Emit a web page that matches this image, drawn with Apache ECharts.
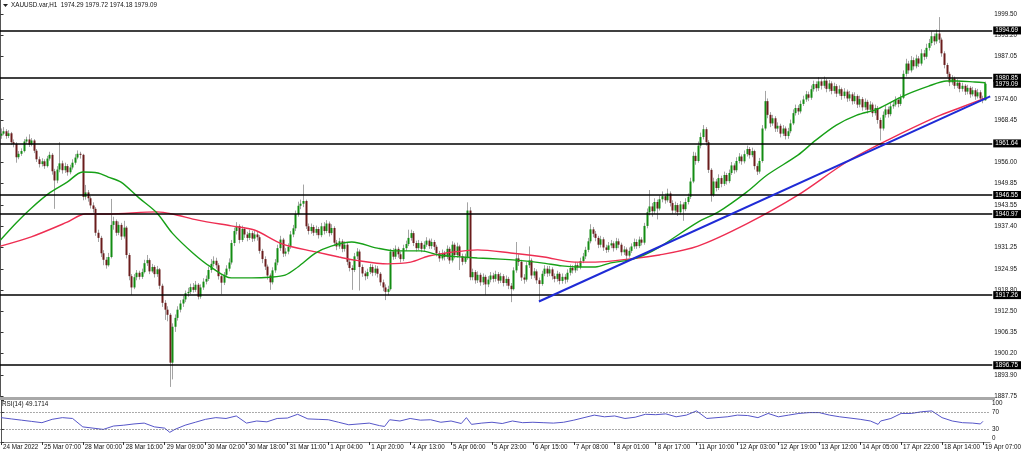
<!DOCTYPE html>
<html><head><meta charset="utf-8">
<script src="https://cdn.jsdelivr.net/npm/echarts@6/dist/echarts.min.js"></script>
<style>html,body{margin:0;padding:0;background:#fff}#c{width:1024px;height:453px}</style>
</head><body><div id="c"></div>
<script>
const headerText = 'XAUUSD.var,H1  1974.29 1979.72 1974.18 1979.09';
const rsiText = 'RSI(14) 49.1714';
const tickIdx = [0,16,32,48,64,80,96,112,128,144,160,176,192,208,224,240,256,272,288,304,320,336,352,368,384];
const tickLabels = ['24 Mar 2022','25 Mar 07:00','28 Mar 00:00','28 Mar 16:00','29 Mar 09:00','30 Mar 02:00','30 Mar 18:00','31 Mar 11:00','1 Apr 04:00','1 Apr 20:00','4 Apr 13:00','5 Apr 06:00','5 Apr 23:00','6 Apr 15:00','7 Apr 08:00','8 Apr 01:00','8 Apr 17:00','11 Apr 10:00','12 Apr 03:00','12 Apr 19:00','13 Apr 12:00','14 Apr 05:00','17 Apr 22:00','18 Apr 14:00','19 Apr 07:00'];
const priceTicks = [1999.50,1993.20,1987.05,1974.60,1968.45,1956.00,1949.85,1943.55,1937.40,1931.25,1924.95,1918.80,1912.50,1906.35,1900.20,1893.90,1887.75];
const levelLines = [1994.69,1980.85,1961.64,1946.55,1940.97,1917.26,1896.75];
const boxLabels = [1994.69,1980.85,1979.09,1961.64,1946.55,1940.97,1917.26,1896.75];
const rsiTicks = [100,70,30,0];
const rsiLevels = [70,30];

const opens = [
1963.9,1964.5,1965.2,1963.8,1964.6,1962.0,1961.5,1957.6,1958.6,1959.4,
1962.2,1962.8,1961.3,1962.5,1959.5,1957.0,1955.6,1956.4,1955.0,1957.2,
1958.3,1953.5,1950.8,1954.0,1955.8,1953.8,1955.0,1953.2,1954.6,1956.0,
1957.5,1958.6,1958.3,1946.0,1947.3,1945.6,1943.5,1942.5,1935.5,1934.0,
1929.5,1927.6,1926.0,1928.4,1937.8,1938.9,1935.5,1937.8,1934.4,1937.0,
1929.0,1922.8,1919.5,1922.5,1923.8,1922.6,1924.0,1926.6,1927.5,1924.2,
1925.5,1923.4,1924.8,1920.0,1915.0,1913.0,1911.5,1897.5,1908.0,1910.6,
1913.0,1914.8,1916.0,1917.8,1918.2,1919.6,1918.8,1920.3,1916.8,1919.5,
1921.2,1922.0,1924.6,1926.4,1927.3,1926.0,1922.8,1920.9,1923.2,1925.0,
1926.8,1932.5,1936.0,1937.5,1933.4,1936.6,1935.0,1934.0,1935.4,1933.8,
1935.0,1934.2,1930.2,1927.8,1925.6,1923.0,1921.0,1924.5,1926.8,1931.0,
1933.5,1929.4,1930.0,1931.4,1935.0,1936.8,1941.0,1943.4,1944.0,1944.8,
1937.4,1936.0,1937.2,1935.5,1936.6,1934.8,1937.4,1936.0,1938.2,1935.4,
1936.9,1932.6,1931.5,1933.0,1930.8,1932.0,1927.0,1925.2,1924.6,1928.6,
1930.0,1925.5,1923.6,1922.8,1924.0,1925.5,1923.8,1925.0,1923.5,1921.0,
1919.5,1918.2,1919.0,1930.0,1928.5,1930.8,1929.2,1927.8,1931.0,1932.2,
1934.0,1935.4,1932.5,1931.0,1932.5,1930.8,1932.0,1933.2,1931.6,1932.8,
1931.4,1929.5,1928.0,1929.6,1928.4,1930.8,1927.4,1932.0,1929.0,1931.5,
1928.6,1927.0,1928.2,1942.0,1922.5,1924.0,1921.6,1923.2,1921.0,1922.6,
1920.4,1921.8,1923.0,1922.0,1923.4,1921.5,1922.8,1920.8,1922.0,1920.0,
1919.0,1924.5,1928.0,1927.0,1922.4,1921.8,1926.0,1927.4,1923.0,1924.2,
1921.6,1920.5,1923.5,1925.0,1923.6,1924.8,1922.8,1922.0,1923.5,1921.4,
1922.6,1921.8,1923.8,1925.2,1924.5,1926.0,1925.4,1927.2,1928.6,1930.5,
1933.0,1936.5,1935.2,1934.0,1932.0,1933.6,1931.2,1930.5,1931.8,1932.4,
1931.0,1933.0,1932.0,1929.8,1930.6,1928.8,1930.2,1931.5,1932.8,1931.6,
1933.5,1932.6,1937.5,1941.5,1943.2,1941.8,1944.5,1942.6,1945.3,1946.2,
1945.0,1947.0,1944.2,1942.0,1943.6,1941.5,1943.8,1942.4,1944.5,1946.0,
1950.5,1958.0,1956.5,1961.0,1963.5,1965.8,1962.0,1953.9,1946.5,1950.5,
1948.6,1951.5,1949.8,1952.4,1950.6,1953.0,1955.2,1953.8,1956.5,1957.8,
1956.4,1958.5,1960.0,1958.2,1959.4,1955.0,1953.4,1956.5,1966.0,1974.0,
1970.0,1967.5,1969.0,1966.0,1966.8,1964.5,1966.0,1963.8,1965.2,1967.5,
1970.5,1972.0,1971.0,1973.2,1974.5,1976.0,1975.0,1977.5,1979.0,1977.8,
1979.8,1978.5,1980.0,1977.6,1979.2,1977.0,1978.4,1976.2,1977.5,1975.5,
1976.8,1974.8,1976.0,1974.0,1975.5,1973.0,1974.6,1972.2,1973.8,1971.5,
1973.0,1970.5,1972.0,1968.5,1966.0,1970.0,1971.6,1970.2,1972.5,1973.0,
1974.4,1973.2,1975.0,1982.0,1985.0,1983.0,1986.0,1984.2,1986.5,1985.0,
1988.0,1987.0,1989.6,1991.0,1993.0,1991.5,1993.8,1992.0,1988.0,1984.6,
1982.0,1979.5,1980.6,1978.5,1979.4,1977.6,1978.5,1976.8,1977.9,1976.0,
1977.2,1975.4,1976.6,1974.8,1974.29];
const closes = [
1964.5,1965.2,1963.8,1964.6,1962.0,1961.5,1957.6,1958.6,1959.4,1962.2,
1962.8,1961.3,1962.5,1959.5,1957.0,1955.6,1956.4,1955.0,1957.2,1958.3,
1953.5,1950.8,1954.0,1955.8,1953.8,1955.0,1953.2,1954.6,1956.0,1957.5,
1958.6,1958.3,1946.0,1947.3,1945.6,1943.5,1942.5,1935.5,1934.0,1929.5,
1927.6,1926.0,1928.4,1937.8,1938.9,1935.5,1937.8,1934.4,1937.0,1929.0,
1922.8,1919.5,1922.5,1923.8,1922.6,1924.0,1926.6,1927.5,1924.2,1925.5,
1923.4,1924.8,1920.0,1915.0,1913.0,1911.5,1897.5,1908.0,1910.6,1913.0,
1914.8,1916.0,1917.8,1918.2,1919.6,1918.8,1920.3,1916.8,1919.5,1921.2,
1922.0,1924.6,1926.4,1927.3,1926.0,1922.8,1920.9,1923.2,1925.0,1926.8,
1932.5,1936.0,1937.5,1933.4,1936.6,1935.0,1934.0,1935.4,1933.8,1935.0,
1934.2,1930.2,1927.8,1925.6,1923.0,1921.0,1924.5,1926.8,1931.0,1933.5,
1929.4,1930.0,1931.4,1935.0,1936.8,1941.0,1943.4,1944.0,1944.8,1937.4,
1936.0,1937.2,1935.5,1936.6,1934.8,1937.4,1936.0,1938.2,1935.4,1936.9,
1932.6,1931.5,1933.0,1930.8,1932.0,1927.0,1925.2,1924.6,1928.6,1930.0,
1925.5,1923.6,1922.8,1924.0,1925.5,1923.8,1925.0,1923.5,1921.0,1919.5,
1918.2,1919.0,1930.0,1928.5,1930.8,1929.2,1927.8,1931.0,1932.2,1934.0,
1935.4,1932.5,1931.0,1932.5,1930.8,1932.0,1933.2,1931.6,1932.8,1931.4,
1929.5,1928.0,1929.6,1928.4,1930.8,1927.4,1932.0,1929.0,1931.5,1928.6,
1927.0,1928.2,1942.0,1922.5,1924.0,1921.6,1923.2,1921.0,1922.6,1920.4,
1921.8,1923.0,1922.0,1923.4,1921.5,1922.8,1920.8,1922.0,1920.0,1919.0,
1924.5,1928.0,1927.0,1922.4,1921.8,1926.0,1927.4,1923.0,1924.2,1921.6,
1920.5,1923.5,1925.0,1923.6,1924.8,1922.8,1922.0,1923.5,1921.4,1922.6,
1921.8,1923.8,1925.2,1924.5,1926.0,1925.4,1927.2,1928.6,1930.5,1933.0,
1936.5,1935.2,1934.0,1932.0,1933.6,1931.2,1930.5,1931.8,1932.4,1931.0,
1933.0,1932.0,1929.8,1930.6,1928.8,1930.2,1931.5,1932.8,1931.6,1933.5,
1932.6,1937.5,1941.5,1943.2,1941.8,1944.5,1942.6,1945.3,1946.2,1945.0,
1947.0,1944.2,1942.0,1943.6,1941.5,1943.8,1942.4,1944.5,1946.0,1950.5,
1958.0,1956.5,1961.0,1963.5,1965.8,1962.0,1953.9,1946.5,1950.5,1948.6,
1951.5,1949.8,1952.4,1950.6,1953.0,1955.2,1953.8,1956.5,1957.8,1956.4,
1958.5,1960.0,1958.2,1959.4,1955.0,1953.4,1956.5,1966.0,1974.0,1970.0,
1967.5,1969.0,1966.0,1966.8,1964.5,1966.0,1963.8,1965.2,1967.5,1970.5,
1972.0,1971.0,1973.2,1974.5,1976.0,1975.0,1977.5,1979.0,1977.8,1979.8,
1978.5,1980.0,1977.6,1979.2,1977.0,1978.4,1976.2,1977.5,1975.5,1976.8,
1974.8,1976.0,1974.0,1975.5,1973.0,1974.6,1972.2,1973.8,1971.5,1973.0,
1970.5,1972.0,1968.5,1966.0,1970.0,1971.6,1970.2,1972.5,1973.0,1974.4,
1973.2,1975.0,1982.0,1985.0,1983.0,1986.0,1984.2,1986.5,1985.0,1988.0,
1987.0,1989.6,1991.0,1993.0,1991.5,1993.8,1992.0,1988.0,1984.6,1982.0,
1979.5,1980.6,1978.5,1979.4,1977.6,1978.5,1976.8,1977.9,1976.0,1977.2,
1975.4,1976.6,1974.8,1974.29,1979.09];
const highs = [
1966.0,1966.4,1965.8,1965.5,1965.0,1962.8,1962.0,1959.4,1960.2,1962.9,
1963.6,1964.3,1963.2,1962.9,1960.0,1957.8,1957.3,1957.0,1958.0,1959.2,
1958.8,1954.2,1955.0,1962.0,1956.6,1956.0,1955.6,1955.4,1957.0,1958.5,
1959.6,1959.2,1958.6,1949.5,1948.0,1946.2,1944.4,1943.0,1936.4,1934.6,
1930.4,1928.4,1929.6,1945.4,1940.2,1939.4,1938.8,1938.4,1939.0,1937.5,
1929.6,1923.4,1923.4,1924.6,1924.4,1925.0,1927.6,1929.0,1928.0,1926.4,
1926.0,1925.8,1925.2,1920.6,1915.8,1914.0,1912.0,1909.0,1911.6,1914.0,
1915.8,1917.0,1918.6,1919.4,1920.6,1920.8,1921.4,1920.8,1920.4,1922.2,
1923.0,1925.6,1927.8,1928.6,1928.2,1926.6,1923.4,1924.0,1926.0,1928.0,
1933.4,1937.0,1938.6,1938.0,1937.6,1937.2,1935.8,1936.4,1936.0,1936.0,
1935.8,1934.8,1930.8,1928.6,1926.2,1923.6,1925.4,1927.8,1932.0,1934.6,
1934.0,1931.0,1932.4,1936.0,1937.8,1942.0,1944.6,1945.2,1949.6,1945.2,
1938.2,1938.2,1937.8,1937.6,1937.2,1938.4,1938.6,1939.2,1938.8,1938.0,
1937.4,1933.4,1934.0,1933.6,1933.0,1932.6,1927.8,1926.0,1929.6,1931.0,
1930.6,1926.2,1924.4,1925.0,1926.4,1926.2,1926.0,1925.8,1924.0,1921.8,
1920.4,1920.0,1930.8,1931.0,1931.8,1931.4,1930.0,1932.0,1933.2,1936.4,
1936.4,1936.0,1933.2,1933.4,1933.0,1933.0,1934.2,1933.8,1933.8,1933.4,
1932.0,1930.2,1930.6,1930.2,1931.8,1931.4,1933.0,1932.6,1932.6,1932.0,
1929.4,1929.4,1944.4,1943.0,1925.0,1924.6,1924.2,1923.8,1923.6,1923.2,
1922.8,1924.0,1923.8,1924.4,1924.0,1923.8,1923.4,1923.0,1922.6,1920.8,
1925.4,1932.8,1929.2,1927.6,1923.4,1927.0,1931.5,1928.0,1925.2,1924.8,
1922.4,1924.4,1926.0,1925.8,1925.8,1925.4,1923.6,1924.4,1924.0,1923.6,
1923.4,1924.8,1926.2,1926.0,1927.0,1926.8,1928.2,1929.6,1931.4,1934.0,
1938.0,1937.2,1936.0,1934.6,1934.6,1934.2,1932.0,1932.8,1933.4,1933.0,
1934.0,1933.8,1932.6,1931.6,1931.2,1931.2,1932.4,1933.8,1933.6,1934.4,
1934.2,1938.4,1942.6,1948.0,1944.2,1945.6,1945.2,1946.4,1947.6,1947.0,
1948.4,1947.6,1945.0,1944.6,1944.2,1944.8,1944.4,1945.6,1947.0,1951.6,
1959.2,1959.0,1962.2,1964.8,1967.0,1966.4,1962.6,1954.4,1951.6,1951.2,
1952.6,1952.2,1953.4,1953.0,1954.0,1956.2,1955.8,1957.6,1958.8,1958.4,
1959.6,1961.0,1960.6,1960.4,1959.8,1955.8,1957.4,1967.0,1977.0,1974.8,
1970.8,1970.0,1969.6,1967.8,1967.4,1967.0,1966.6,1966.2,1968.6,1971.6,
1973.0,1972.8,1974.2,1975.6,1977.0,1976.8,1978.6,1980.0,1979.8,1981.0,
1980.4,1981.2,1980.6,1980.2,1979.8,1979.4,1979.0,1978.6,1978.0,1977.8,
1977.4,1977.0,1976.6,1976.6,1976.0,1975.6,1975.2,1974.8,1974.4,1974.0,
1973.6,1973.0,1972.6,1969.2,1971.0,1972.6,1972.4,1973.6,1974.2,1975.4,
1975.0,1976.0,1983.0,1986.4,1985.8,1987.2,1986.8,1987.6,1987.2,1989.2,
1989.0,1990.8,1992.2,1994.4,1993.8,1995.0,1998.6,1992.6,1988.6,1985.2,
1982.6,1981.6,1981.2,1980.4,1980.0,1979.4,1979.0,1978.8,1978.4,1978.2,
1977.8,1977.6,1977.2,1975.6,1979.72];
const lows = [
1963.0,1964.0,1963.0,1963.2,1961.2,1960.5,1956.0,1957.0,1958.0,1959.0,
1961.5,1960.6,1960.8,1958.8,1956.2,1954.6,1954.9,1954.2,1954.6,1956.6,
1952.5,1942.5,1950.0,1953.2,1952.8,1953.0,1952.2,1952.6,1954.0,1955.4,
1957.0,1957.2,1945.0,1945.2,1944.6,1942.6,1941.4,1934.6,1932.8,1928.4,
1926.0,1925.0,1925.6,1928.0,1936.4,1934.6,1934.8,1933.4,1933.8,1928.0,
1921.6,1917.3,1919.0,1921.6,1921.8,1922.0,1923.6,1925.8,1923.4,1923.8,
1922.4,1922.6,1919.0,1913.8,1910.0,1909.6,1890.4,1892.6,1906.5,1909.8,
1912.2,1913.8,1915.2,1916.8,1917.6,1918.0,1918.2,1916.0,1916.2,1918.8,
1920.4,1921.4,1923.8,1925.6,1925.0,1921.8,1917.5,1920.2,1922.6,1924.2,
1926.2,1931.6,1935.0,1932.4,1932.8,1934.0,1933.0,1933.4,1932.8,1933.0,
1933.2,1929.4,1926.6,1924.6,1921.8,1918.8,1920.4,1923.8,1926.0,1930.2,
1928.4,1928.6,1929.2,1930.8,1934.2,1936.0,1940.2,1942.4,1943.0,1936.6,
1935.0,1935.2,1934.6,1934.8,1933.8,1934.2,1935.0,1935.4,1934.4,1934.8,
1931.6,1930.4,1930.8,1929.8,1930.0,1926.0,1924.2,1918.8,1924.0,1927.8,
1918.6,1922.6,1921.6,1922.0,1923.4,1922.8,1923.0,1922.4,1920.0,1918.4,
1915.8,1917.2,1918.6,1927.6,1927.8,1928.2,1926.8,1927.2,1930.2,1931.6,
1933.2,1931.6,1930.0,1930.4,1929.8,1930.0,1931.4,1930.8,1930.8,1930.4,
1928.6,1927.0,1927.4,1927.4,1927.8,1926.4,1926.8,1928.0,1928.2,1924.6,
1926.0,1926.4,1927.6,1921.6,1921.6,1920.6,1920.8,1920.0,1920.2,1917.4,
1919.6,1921.0,1921.0,1921.2,1920.6,1920.8,1919.8,1920.0,1919.0,1915.2,
1918.6,1923.8,1925.8,1921.4,1920.6,1921.2,1925.2,1922.0,1922.2,1920.6,
1915.4,1920.0,1922.8,1922.6,1922.8,1921.8,1921.0,1921.2,1920.4,1920.6,
1920.6,1921.0,1923.0,1923.6,1923.8,1924.4,1924.8,1926.6,1927.8,1929.8,
1932.4,1934.2,1933.0,1931.0,1931.2,1930.2,1929.6,1929.8,1931.0,1930.0,
1930.4,1931.0,1928.8,1929.0,1927.8,1928.2,1929.6,1930.8,1930.8,1931.0,
1931.8,1932.0,1936.8,1940.6,1940.2,1941.0,1939.4,1942.0,1944.4,1944.0,
1944.4,1943.2,1941.0,1941.2,1940.4,1940.8,1939.0,1941.8,1943.8,1945.4,
1950.0,1955.4,1956.0,1960.2,1962.8,1961.0,1953.0,1944.6,1946.0,1947.6,
1948.0,1948.8,1949.2,1949.6,1950.0,1952.4,1952.8,1953.2,1955.8,1955.4,
1955.8,1957.8,1957.2,1957.6,1954.0,1952.4,1952.8,1956.0,1965.4,1969.0,
1966.4,1966.8,1965.0,1965.0,1963.4,1963.8,1962.8,1963.0,1964.6,1967.0,
1969.8,1970.0,1970.4,1972.6,1973.8,1974.0,1974.4,1976.8,1976.8,1977.0,
1977.4,1977.8,1976.6,1976.8,1976.0,1976.2,1975.2,1975.6,1974.4,1974.8,
1973.8,1974.0,1973.0,1973.2,1972.0,1972.2,1971.2,1971.4,1970.4,1970.8,
1969.4,1969.8,1967.4,1962.5,1965.4,1969.2,1969.2,1969.6,1971.8,1972.4,
1972.2,1972.6,1974.6,1981.2,1982.0,1982.4,1983.2,1983.6,1984.0,1984.4,
1986.0,1986.4,1988.8,1990.2,1990.4,1990.8,1991.0,1987.0,1983.6,1981.0,
1978.4,1978.8,1977.6,1977.8,1976.6,1976.8,1975.8,1976.0,1975.0,1975.4,
1974.4,1974.8,1973.8,1973.4,1974.18];

const maGreen = [[0,1933.4],[6,1938.3],[12,1942.7],[19,1947.1],[26,1950.3],[32,1953.3],[38,1953.0],[42,1951.8],[47,1950.3],[54,1945.7],[61,1941.3],[67,1935.4],[75,1929.6],[82,1925.5],[90,1922.3],[98,1922.3],[105,1922.5],[111,1923.1],[116,1925.5],[123,1929.6],[129,1931.6],[137,1932.8],[147,1931.0],[154,1930.2],[164,1930.2],[171,1929.0],[180,1928.4],[186,1928.1],[195,1927.8],[201,1927.5],[211,1926.7],[219,1925.8],[225,1925.5],[232,1925.5],[238,1926.7],[245,1927.5],[251,1929.0],[257,1931.3],[272,1938.6],[280,1941.6],[291,1947.4],[299,1952.4],[311,1958.2],[318,1962.6],[326,1967.0],[334,1969.9],[342,1971.7],[352,1975.5],[362,1978.4],[369,1979.9],[373,1979.9],[380,1979.6],[384,1979.4]];
const maGreenTail = [[384,1979.4],[384,1974.3]];
const maRed = [[0,1931.6],[12,1934.3],[26,1938.6],[33,1941.0],[42,1941.0],[61,1941.6],[67,1941.0],[77,1939.2],[90,1937.5],[99,1936.3],[110,1932.2],[123,1929.9],[132,1928.4],[138,1927.5],[151,1926.4],[160,1926.9],[167,1928.7],[177,1929.9],[186,1930.5],[199,1929.6],[212,1928.4],[224,1926.9],[232,1926.9],[245,1927.8],[257,1929.0],[272,1931.6],[291,1938.1],[311,1946.5],[330,1956.2],[346,1962.6],[365,1969.4],[375,1972.3],[384,1974.9]];
const trendLine = [[210,1915.4],[386,1975.4]];
const rsi = [[0,58],[4,55],[8,52],[12,49],[16,46],[20,54],[24,58],[28,56],[32,36],[36,33],[40,30],[44,38],[48,40],[52,43],[56,45],[60,36],[64,33],[66,23],[68,30],[72,40],[76,47],[80,54],[84,58],[88,56],[92,62],[96,45],[100,50],[104,48],[108,56],[112,57],[116,66],[120,55],[124,54],[128,53],[132,47],[136,41],[140,43],[144,45],[148,39],[150,37],[152,53],[156,50],[160,56],[164,52],[168,53],[172,47],[176,50],[180,44],[182,58],[184,42],[188,45],[192,47],[196,44],[200,50],[204,46],[208,47],[212,46],[216,45],[220,47],[224,52],[228,58],[232,64],[236,60],[240,62],[244,56],[248,59],[252,66],[256,65],[260,67],[264,60],[268,64],[272,74],[276,56],[280,58],[284,60],[288,64],[292,63],[296,58],[300,68],[304,60],[308,64],[312,68],[316,70],[320,70],[324,64],[328,60],[332,57],[336,54],[340,50],[343,42],[344,50],[348,56],[352,68],[356,68],[360,72],[364,74],[368,58],[372,50],[376,46],[380,45],[383,43],[384,49.17]];

const FONT = 'Liberation Sans, Arial, sans-serif';
const candleData = closes.map((c, i) => [i, opens[i], c, lows[i], highs[i]]);

function renderCandle(params, api) {
  const i = api.value(0), o = api.value(1), c = api.value(2), l = api.value(3), h = api.value(4);
  const pO = api.coord([i, o]), pC = api.coord([i, c]), pL = api.coord([i, l]), pH = api.coord([i, h]);
  const x = Math.round(pO[0]);
  const top = Math.min(pO[1], pC[1]), bot = Math.max(pO[1], pC[1]);
  const up = c >= o;
  return {
    type: 'group',
    children: [
      { type: 'line', shape: { x1: x + 0.5, y1: pH[1], x2: x + 0.5, y2: pL[1] }, style: { stroke: '#a4a4a4', lineWidth: 1 } },
      { type: 'rect', shape: { x: x - 0.5, y: top, width: 2, height: Math.max(1, bot - top) }, style: { fill: up ? '#138c13' : '#6a1c1c' } }
    ]
  };
}

const chart = echarts.init(document.getElementById('c'), null, { renderer: 'canvas' });
const XMIN = -0.2, XMAX = 386.8;
const option = {
  animation: false,
  backgroundColor: '#ffffff',
  grid: [
    { left: 0, right: 29, top: 0, height: 397 },
    { left: 0, right: 29, top: 400, height: 42 }
  ],
  xAxis: [
    { type: 'value', gridIndex: 0, min: XMIN, max: XMAX, show: false },
    { type: 'value', gridIndex: 1, min: XMIN, max: XMAX,
      axisLine: { show: true, lineStyle: { color: '#888', width: 1 } },
      splitLine: { show: false },
      axisTick: { show: true, length: 3, customValues: tickIdx, lineStyle: { color: '#333' } },
      axisLabel: { customValues: tickIdx, formatter: v => tickLabels[tickIdx.indexOf(Math.round(v))] || '',
        align: 'left', margin: 2, fontSize: 6.3, fontFamily: FONT, color: '#111', padding: [0, 0, 0, 2] } }
  ],
  yAxis: [
    { type: 'value', gridIndex: 0, position: 'right', min: 1887.45, max: 2003.6, scale: true,
      axisLine: { show: true, lineStyle: { color: '#555', width: 1 } },
      splitLine: { show: false },
      axisTick: { show: true, length: 3, customValues: priceTicks, lineStyle: { color: '#333' } },
      axisLabel: { customValues: priceTicks, formatter: v => v.toFixed(2), margin: 2, fontSize: 6.3, fontFamily: FONT, color: '#111' } },
    { type: 'value', gridIndex: 0, position: 'right', min: 1887.45, max: 2003.6, scale: true, z: 10,
      axisLine: { show: false }, splitLine: { show: false }, axisTick: { show: false },
      axisLabel: { customValues: boxLabels, formatter: v => v.toFixed(2), margin: 1, fontSize: 6.3, fontFamily: FONT,
        color: '#fff', backgroundColor: '#000', padding: [1, 3, 1, 2] } },
    { type: 'value', gridIndex: 1, position: 'right', min: 0, max: 100,
      axisLine: { show: true, lineStyle: { color: '#555', width: 1 } },
      splitLine: { show: false },
      axisTick: { show: true, length: 3, customValues: rsiTicks, lineStyle: { color: '#333' } },
      axisLabel: { customValues: rsiTicks, margin: 2, fontSize: 6.3, fontFamily: FONT, color: '#111',
        formatter: v => v === 100 ? '{t|100}' : (v === 0 ? '{b|0}' : String(v)),
        rich: { t: { fontSize: 6.3, fontFamily: FONT, color: '#111', padding: [6, 0, 0, 0] }, b: { fontSize: 6.3, fontFamily: FONT, color: '#111', padding: [0, 0, 8, 0] } } } }
  ],
  series: [
    { type: 'custom', name: 'candles', xAxisIndex: 0, yAxisIndex: 0, renderItem: renderCandle, data: candleData, clip: true, z: 3,
      encode: { x: 0, y: [1, 2, 3, 4] } },
    { type: 'line', name: 'ma red', xAxisIndex: 0, yAxisIndex: 0, data: maRed, smooth: 0.3, showSymbol: false, z: 4,
      lineStyle: { color: '#ee2e52', width: 1.4 },
      markLine: { silent: true, symbol: ['none', 'none'], label: { show: false },
        lineStyle: { color: '#000', width: 1.5, type: 'solid' }, data: levelLines.map(v => ({ yAxis: v })) } },
    { type: 'line', name: 'ma green', xAxisIndex: 0, yAxisIndex: 0, data: maGreen, smooth: 0.3, showSymbol: false, z: 4,
      lineStyle: { color: '#17a017', width: 1.4 } },
    { type: 'line', name: 'ma green tail', xAxisIndex: 0, yAxisIndex: 0, data: maGreenTail, showSymbol: false, z: 4,
      lineStyle: { color: '#17a017', width: 1.4 } },
    { type: 'line', name: 'trend', xAxisIndex: 0, yAxisIndex: 0, data: trendLine, showSymbol: false, z: 5,
      lineStyle: { color: '#1f2bd6', width: 2 } },
    { type: 'line', name: 'rsi', xAxisIndex: 1, yAxisIndex: 2, data: rsi, showSymbol: false, z: 4,
      lineStyle: { color: '#5555c8', width: 1 },
      markLine: { silent: true, symbol: ['none', 'none'], label: { show: false },
        lineStyle: { color: '#555', width: 1, type: [1, 2] }, data: rsiLevels.map(v => ({ yAxis: v })) } }
  ],
  graphic: [
    { type: 'polygon', z: 100, shape: { points: [[3, 4], [8, 4], [5.5, 7]] }, style: { fill: '#222' } },
    { type: 'text', z: 100, left: 11, top: 2, style: { text: headerText, font: '6.3px ' + FONT, fill: '#111' } },
    { type: 'rect', z: 100, shape: { x: 0, y: 397, width: 995, height: 3 }, style: { fill: '#a8a8a8' } },
    { type: 'text', z: 100, left: 2, top: 401, style: { text: rsiText, font: '6.3px ' + FONT, fill: '#111' } }
  ]
};
chart.setOption(option);
</script>
</body></html>
